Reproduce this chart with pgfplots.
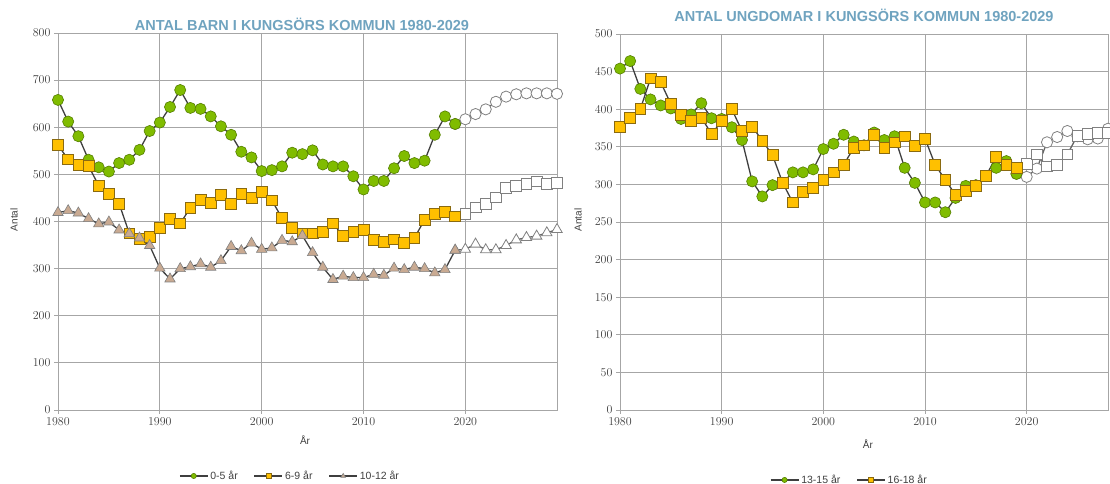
\documentclass[border=0pt]{standalone}
\usepackage{fontspec}
\setmainfont{Liberation Sans}
\usepackage{pgfplots}
\pgfplotsset{compat=1.18}
\definecolor{lc}{HTML}{3F3F3F}
\definecolor{gfill}{HTML}{80BC00}
\definecolor{gedge}{HTML}{557F00}
\definecolor{yfill}{HTML}{FFC000}
\definecolor{yedge}{HTML}{8A6A10}
\definecolor{tfill}{HTML}{C9AA92}
\definecolor{tedge}{HTML}{808080}
\definecolor{ttl}{HTML}{6FA3BF}
\definecolor{grd}{HTML}{A6A6A6}
\definecolor{txt}{HTML}{404040}
\pgfplotsset{
  base/.style={
    scale only axis, anchor=south west,
    axis line style={grd, line width=0.9pt},
    grid=major, major grid style={grd, line width=0.9pt},
    tick align=outside, tick pos=left, major tick length=4pt,
    tick style={grd, line width=0.8pt},
    ticklabel style={font=\fontsize{11.5}{12}\selectfont, text=txt},
    /pgf/number format/set thousands separator={},
    xtick={1980,1990,...,2020},
    title style={font=\fontsize{14.5}{16}\selectfont\bfseries, text=ttl, yshift=0pt},
    xlabel style={font=\fontsize{10}{12}\selectfont, text=txt},
    ylabel style={font=\fontsize{10}{12}\selectfont, text=txt},
    legend style={draw=none, fill=none, font=\fontsize{10.5}{12}\selectfont, text=txt,
      legend columns=-1, /tikz/every even column/.append style={column sep=14pt}},
    legend image code/.code={\draw[mark repeat=2, mark phase=2, mark size=2.6pt] plot coordinates {(0pt,0pt)(14pt,0pt)(28pt,0pt)};},
  },
  hist/.style={lc, line width=1.3pt, mark size=5.6pt},
  fc/.style={lc!80, line width=1.3pt, mark size=5.6pt, forget plot},
  gc/.style={hist, mark=*, mark options={fill=gfill, draw=gedge, line width=0.6pt}},
  ys/.style={hist, mark=square*, mark size=5.4pt, mark options={fill=yfill, draw=yedge, line width=0.7pt}},
  tt/.style={hist, mark=triangle*, mark size=6pt, mark options={fill=tfill, draw=tedge, line width=0.6pt}},
  gcf/.style={fc, mark=*, mark options={fill=white, draw=gray, line width=0.8pt}},
  ysf/.style={fc, mark=square*, mark size=5.4pt, mark options={fill=white, draw=gray, line width=0.8pt}},
  ttf/.style={fc, mark=triangle*, mark size=6pt, mark options={fill=white, draw=gray, line width=0.8pt}},
}
\begin{document}
\begin{tikzpicture}[x=1pt,y=1pt]
\useasboundingbox (0,0) rectangle (1110,484);
% ---------------- left chart
\begin{axis}[base, at={(58pt,74pt)}, width=499pt, height=377pt,
  xmin=1980, xmax=2029, ymin=0, ymax=800, ytick={0,100,...,800},
  extra x ticks={1990}, extra x tick labels={}, extra x tick style={grid style={black!85, line width=0.9pt}},
  extra y ticks={800}, extra y tick labels={}, extra y tick style={grid style={black!80, line width=0.9pt}},
  title={ANTAL BARN I KUNGSÖRS KOMMUN 1980-2029},
  title style={at={(axis description cs:0.489,0.992)}, anchor=base},
  xlabel={År}, xlabel style={at={(axis description cs:0.495,-0.08)}, anchor=center},
  ylabel={Antal}, ylabel style={at={(axis description cs:-0.088,0.505)}, anchor=center},
  legend style={at={(axis description cs:0.465,-0.175)}, anchor=center},
]
\addplot[gcf] coordinates {(2019,607)(2020,617)(2021,628)(2022,638)(2023,654)(2024,665)(2025,670)(2026,672)(2027,672)(2028,672)(2029,671)};
\addplot[ysf] coordinates {(2019,411)(2020,416)(2021,430)(2022,438)(2023,451)(2024,472)(2025,476)(2026,480)(2027,485)(2028,480)(2029,482)};
\addplot[ttf] coordinates {(2019,339)(2020,341)(2021,352)(2022,340)(2023,340)(2024,349)(2025,361)(2026,366)(2027,369)(2028,376)(2029,383)};
\addplot[gc] coordinates {(1980,658)(1981,612)(1982,581)(1983,531)(1984,515)(1985,506)(1986,524)(1987,531)(1988,552)(1989,592)(1990,610)(1991,643)(1992,679)(1993,641)(1994,639)(1995,623)(1996,602)(1997,584)(1998,548)(1999,536)(2000,507)(2001,509)(2002,517)(2003,546)(2004,543)(2005,551)(2006,521)(2007,517)(2008,517)(2009,496)(2010,468)(2011,486)(2012,486)(2013,513)(2014,539)(2015,524)(2016,529)(2017,584)(2018,623)(2019,607)};
\addlegendentry{0-5 år}
\addplot[ys] coordinates {(1980,562)(1981,532)(1982,520)(1983,518)(1984,476)(1985,459)(1986,438)(1987,375)(1988,364)(1989,367)(1990,387)(1991,405)(1992,396)(1993,429)(1994,446)(1995,440)(1996,457)(1997,438)(1998,459)(1999,451)(2000,463)(2001,445)(2002,407)(2003,387)(2004,375)(2005,375)(2006,378)(2007,396)(2008,369)(2009,378)(2010,383)(2011,361)(2012,357)(2013,362)(2014,355)(2015,365)(2016,404)(2017,416)(2018,421)(2019,411)};
\addlegendentry{6-9 år}
\addplot[tt] coordinates {(1980,419)(1981,423)(1982,418)(1983,406)(1984,395)(1985,399)(1986,382)(1987,374)(1988,365)(1989,349)(1990,301)(1991,278)(1992,300)(1993,304)(1994,310)(1995,303)(1996,317)(1997,347)(1998,338)(1999,354)(2000,341)(2001,344)(2002,360)(2003,357)(2004,370)(2005,334)(2006,303)(2007,277)(2008,284)(2009,281)(2010,281)(2011,288)(2012,286)(2013,301)(2014,298)(2015,303)(2016,300)(2017,291)(2018,298)(2019,339)};
\addlegendentry{10-12 år}
\end{axis}
% ---------------- right chart
\begin{axis}[base, at={(620pt,74pt)}, width=488pt, height=376pt,
  xmin=1980, xmax=2028, ymin=0, ymax=500, ytick={0,50,...,500},
  extra y ticks={150}, extra y tick labels={}, extra y tick style={grid style={black!85, line width=0.9pt}},
  title={ANTAL UNGDOMAR I KUNGSÖRS KOMMUN 1980-2029},
  title style={at={(axis description cs:0.5,1.016)}, anchor=base},
  xlabel={År}, xlabel style={at={(axis description cs:0.508,-0.09)}, anchor=center},
  ylabel={Antal}, ylabel style={at={(axis description cs:-0.086,0.505)}, anchor=center},
  legend style={at={(axis description cs:0.47,-0.186)}, anchor=center},
]
\addplot[gcf] coordinates {(2019,314)(2020,310)(2021,321)(2022,356)(2023,363)(2024,371)(2025,364)(2026,360)(2027,361)(2028,374)};
\addplot[ysf] coordinates {(2019,322)(2020,327)(2021,340)(2022,324)(2023,326)(2024,340)(2025,365)(2026,367)(2027,368)(2028,368)};
\addplot[gc] coordinates {(1980,454)(1981,464)(1982,427)(1983,413)(1984,405)(1985,401)(1986,387)(1987,393)(1988,408)(1989,388)(1990,387)(1991,376)(1992,359)(1993,304)(1994,284)(1995,299)(1996,302)(1997,316)(1998,316)(1999,320)(2000,347)(2001,354)(2002,366)(2003,357)(2004,352)(2005,369)(2006,359)(2007,364)(2008,322)(2009,302)(2010,276)(2011,276)(2012,263)(2013,282)(2014,298)(2015,299)(2016,311)(2017,322)(2018,331)(2019,314)};
\addlegendentry{13-15 år}
\addplot[ys] coordinates {(1980,377)(1981,388)(1982,400)(1983,441)(1984,436)(1985,407)(1986,392)(1987,384)(1988,389)(1989,367)(1990,384)(1991,400)(1992,371)(1993,377)(1994,358)(1995,339)(1996,302)(1997,276)(1998,290)(1999,295)(2000,306)(2001,316)(2002,326)(2003,349)(2004,352)(2005,366)(2006,349)(2007,356)(2008,364)(2009,351)(2010,361)(2011,326)(2012,306)(2013,286)(2014,291)(2015,298)(2016,311)(2017,337)(2018,326)(2019,322)};
\addlegendentry{16-18 år}
\end{axis}
\end{tikzpicture}
\end{document}
